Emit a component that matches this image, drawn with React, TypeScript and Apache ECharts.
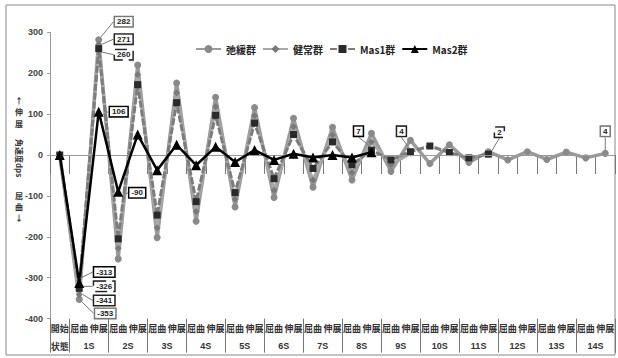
import React, { useEffect, useRef } from "react";
import * as echarts from "echarts";

const categories = [
  "開始",
  "屈曲", "伸展", "屈曲", "伸展", "屈曲", "伸展", "屈曲", "伸展", "屈曲", "伸展",
  "屈曲", "伸展", "屈曲", "伸展", "屈曲", "伸展", "屈曲", "伸展", "屈曲", "伸展",
  "屈曲", "伸展", "屈曲", "伸展", "屈曲", "伸展", "屈曲", "伸展",
];
const stageLabels = ["状態", "1S", "2S", "3S", "4S", "5S", "6S", "7S", "8S", "9S", "10S", "11S", "12S", "13S", "14S"];

const relaxed = [0, -353, 282, -254, 220, -202, 176, -162, 141, -127, 116, -104, 90, -79, 68, -61, 53, -40, 36, -21, 25, -18, 8, -12, 8, -11, 7, -7, 4];
const healthy = [0, -341, 271, -228, 196, -178, 152, -138, 118, -108, 96, -86, 69, -61, 49, -43, 32, -24, 4, null, null, null, null, null, null, null, null, null, null];
const mas1 = [0, -326, 260, -205, 172, -147, 128, -114, 97, -92, 78, -58, 50, -33, 32, -24, 12, -12, 8, 22, 6, -7, 2, null, null, null, null, null, null];
const mas2 = [0, -313, 106, -90, 50, -37, 25, -25, 20, -17, 12, -12, 3, -6, 0, -6, 7, null, null, null, null, null, null, null, null, null, null, null, null];

const yTicks = { min: -400, max: 300, interval: 100 };

// label offsets (dx, dy) by data index for each series
const relaxedLabels: Record<number, [number, number]> = { 1: [26, 14], 2: [25, -18], 28: [0, -22] };
const healthyLabels: Record<number, [number, number]> = { 1: [25, 6], 2: [25, -5], 18: [-9, -22] };
const mas1Labels: Record<number, [number, number]> = { 1: [25, -2], 2: [25, 6], 22: [11, -22] };
const mas2Labels: Record<number, [number, number]> = { 1: [25, -11], 2: [20, 0], 3: [19, 1], 16: [-13, -21] };

const NUM_FONT = "Liberation Sans, Arial, sans-serif";
const CJK_FONT = "Noto Sans CJK JP, sans-serif";

function withLabels(values: (number | null)[], offsets: Record<number, [number, number]>) {
  return values.map((v, i) =>
    offsets[i] !== undefined && v !== null ? { value: v, label: { show: true } } : v
  );
}

function labelStyle(border: string, dashed: boolean) {
  return {
    show: false,
    position: "inside",
    fontSize: 8,
    fontWeight: "bold",
    fontFamily: NUM_FONT,
    color: "#222",
    backgroundColor: "#fff",
    borderColor: border,
    borderWidth: 1.5,
    borderType: dashed ? "dashed" : "solid",
    padding: [1, 2, 0, 2],
  };
}

function layoutFn(offsets: Record<number, [number, number]>) {
  return (params: any) => {
    const o = offsets[params.dataIndex];
    if (!o) return {};
    return { dx: o[0], dy: o[1] };
  };
}

const labelLine = { show: true, lineStyle: { color: "#777", width: 1 } };

const titleChar = (text: string, y: number) => ({
  type: "text",
  x: 19,
  y,
  style: {
    text,
    font: "bold 8px " + CJK_FONT,
    fill: "#333",
    align: "center",
    verticalAlign: "middle",
  },
});

export default function App() {
  const ref = useRef<HTMLDivElement>(null);
  useEffect(() => {
    if (!ref.current) return;
    const chart = echarts.init(ref.current, null, { renderer: "svg" });
    const option: any = {
      animation: false,
      backgroundColor: "#fff",
      legend: {
        left: 190,
        top: 39,
        itemWidth: 25,
        itemHeight: 10,
        itemGap: 6,
        data: ["弛緩群", "健常群", "Mas1群", "Mas2群"],
        textStyle: { fontSize: 10, fontWeight: "bold", color: "#222", fontFamily: CJK_FONT },
      },
      grid: { left: 50, right: 3, top: 32.3, bottom: 39.4, containLabel: false },
      xAxis: [
        {
          type: "category",
          data: categories,
          position: "bottom",
          boundaryGap: true,
          axisLine: { show: false },
          axisTick: { show: true, interval: 0, length: 19, lineStyle: { color: "#777", width: 1 } },
          axisLabel: {
            interval: 0,
            margin: 5,
            fontSize: 9,
            fontWeight: "bold",
            color: "#333",
            fontFamily: CJK_FONT,
          },
        },
        {
          type: "category",
          data: categories,
          position: "bottom",
          boundaryGap: true,
          axisLine: { show: false },
          axisTick: {
            show: true,
            interval: (i: number) => i === 0 || i % 2 === 1,
            length: 34,
            lineStyle: { color: "#777", width: 1 },
          },
          axisLabel: {
            interval: 0,
            margin: 23,
            fontSize: 9,
            fontWeight: "bold",
            color: "#333",
            formatter: (_v: string, i: number) =>
              i === 0 ? "{s|" + stageLabels[0] + "}" : i % 2 === 1 ? "{g|" + stageLabels[(i + 1) / 2] + "}" : "",
            rich: {
              s: { fontSize: 9, fontWeight: "bold", color: "#333", fontFamily: CJK_FONT },
              g: { fontSize: 9, fontWeight: "bold", color: "#333", fontFamily: NUM_FONT, padding: [0, 0, 0, 19.5] },
            },
          },
        },
      ],
      yAxis: {
        type: "value",
        min: yTicks.min,
        max: yTicks.max,
        interval: yTicks.interval,
        axisLine: { show: true, lineStyle: { color: "#999", width: 1 } },
        axisTick: { show: true, length: 3, lineStyle: { color: "#999" } },
        splitLine: { show: false },
        axisLabel: { fontSize: 9, fontWeight: "bold", color: "#444", margin: 7, fontFamily: NUM_FONT },
      },
      series: [
        {
          name: "弛緩群",
          type: "line",
          data: withLabels(relaxed, relaxedLabels),
          symbol: "circle",
          symbolSize: 7,
          lineStyle: { color: "#9a9a9a", width: 3.5 },
          itemStyle: { color: "#8a8a8a" },
          label: labelStyle("#777", false),
          labelLine,
          labelLayout: layoutFn(relaxedLabels),
          markLine: {
            silent: true,
            symbol: ["none", "none"],
            label: { show: false },
            lineStyle: { color: "#999", width: 1, type: "solid" },
            data: [{ yAxis: 0 }],
          },
          z: 2,
        },
        {
          name: "健常群",
          type: "line",
          data: withLabels(healthy, healthyLabels),
          symbol: "diamond",
          symbolSize: 7,
          lineStyle: { color: "#a8a8a8", width: 3 },
          itemStyle: { color: "#7a7a7a" },
          label: labelStyle("#222", false),
          labelLine,
          labelLayout: layoutFn(healthyLabels),
          z: 3,
        },
        {
          name: "Mas1群",
          type: "line",
          data: withLabels(mas1, mas1Labels),
          symbol: "rect",
          symbolSize: 7,
          lineStyle: { color: "#7c7c7c", width: 3, type: [7, 2] },
          itemStyle: { color: "#2a2a2a" },
          label: labelStyle("#222", true),
          labelLine,
          labelLayout: layoutFn(mas1Labels),
          z: 4,
        },
        {
          name: "Mas2群",
          type: "line",
          data: withLabels(mas2, mas2Labels),
          symbol: "triangle",
          symbolSize: 10,
          lineStyle: { color: "#000", width: 2.5 },
          itemStyle: { color: "#000" },
          label: labelStyle("#000", false),
          labelLine,
          labelLayout: layoutFn(mas2Labels),
          z: 5,
        },
      ],
      graphic: [
        {
          type: "rect",
          shape: { x: 6, y: 5, width: 609, height: 350 },
          style: { fill: "none", stroke: "#888", lineWidth: 1 },
          silent: true,
        },
        titleChar("↑", 100),
        titleChar("伸", 111),
        titleChar("展", 123),
        {
          type: "text",
          x: 19,
          y: 158,
          rotation: -Math.PI / 2,
          style: {
            text: "角速度dps",
            font: "bold 8px " + CJK_FONT,
            fill: "#333",
            align: "center",
            verticalAlign: "middle",
          },
        },
        titleChar("屈", 195),
        titleChar("曲", 206),
        titleChar("↓", 217),
      ],
    };
    chart.setOption(option);
    return () => chart.dispose();
  }, []);
  return <div ref={ref} style={{ position: "fixed", left: 0, top: 0, width: 618, height: 358 }} />;
}
